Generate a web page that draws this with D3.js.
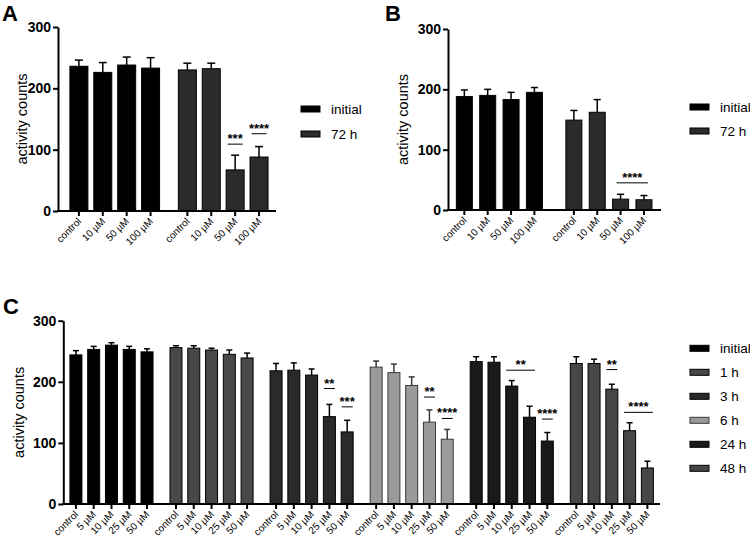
<!DOCTYPE html>
<html lang="en">
<head>
<meta charset="UTF-8" />
<title>activity counts</title>
<script src="https://cdn.jsdelivr.net/npm/d3@7"></script>
<style>
  body { margin: 0; background: #fff; }
  svg { display: block; font-family: "Liberation Sans", Arial, sans-serif; }
</style>
</head>
<body>
<div id="chart"></div>
<script>
const width = 750;
const height = 543;

// panels A and B
const dosesAB = ["control", "10 µM", "50 µM", "100 µM"];
const seriesAB = ["initial", "72 h"];
const colorsAB = ["#000000", "#2b2b2b"];

const aInitial = [236, 226, 238, 233];
const aInitialErr = [10, 16, 13, 17];
const a72h = [230, 232, 67, 88];
const a72hErr = [11, 9, 24, 17];

const bInitial = [188, 190, 183, 195];
const bInitialErr = [11, 10, 12, 8];
const b72h = [149, 162, 18, 17];
const b72hErr = [16, 21, 8, 7];

// panel C
const dosesC = ["control", "5 µM", "10 µM", "25 µM", "50 µM"];
const seriesC = ["initial", "1 h", "3 h", "6 h", "24 h", "48 h"];
const colorsC = ["#000000", "#484848", "#2a2a2a", "#9a9a9a", "#1a1a1a", "#474747"];

const cInitial = [244, 253, 260, 253, 249];
const cInitialErr = [7, 5, 4, 5, 5];
const c1h = [256, 255, 252, 245, 239];
const c1hErr = [3, 4, 3, 7, 8];
const c3h = [218, 219, 211, 143, 118];
const c3hErr = [12, 12, 10, 20, 19];
const c6h = [224, 215, 194, 134, 106];
const c6hErr = [10, 14, 14, 20, 16];
const c24h = [233, 232, 193, 142, 103];
const c24hErr = [8, 9, 9, 18, 14];
const c48h = [230, 230, 188, 120, 59];
const c48hErr = [11, 7, 8, 13, 11];

const yTicks = [0, 100, 200, 300];

// significance marks: group, first/last dose index, bracket height (counts)
const sigA = [
  { group: 1, from: 2, to: 2, at: 109, label: "***" },
  { group: 1, from: 3, to: 3, at: 126, label: "****" }
];
const sigB = [{ group: 1, from: 2, to: 3, at: 45, label: "****" }];
const sigC = [
  { group: 2, from: 3, to: 3, at: 189, label: "**" },
  { group: 2, from: 4, to: 4, at: 159, label: "***" },
  { group: 3, from: 3, to: 3, at: 175, label: "**" },
  { group: 3, from: 4, to: 4, at: 140, label: "****" },
  { group: 4, from: 2, to: 3, at: 219, label: "**" },
  { group: 4, from: 4, to: 4, at: 139, label: "****" },
  { group: 5, from: 2, to: 2, at: 220, label: "**" },
  { group: 5, from: 3, to: 4, at: 150, label: "****" }
];

const svg = d3.select("#chart")
  .append("svg")
  .attr("width", width)
  .attr("height", height);

function drawPanel(cfg) {
  const g = svg.append("g");
  const n = cfg.doses.length;
  const step = n + cfg.gap;
  const lastSlot = (cfg.means.length - 1) * step + n - 1;

  const x = d3.scaleLinear()
    .domain([-cfg.padL, lastSlot + cfg.padR])
    .range([cfg.left, cfg.right]);
  const y = d3.scaleLinear()
    .domain([0, 300])
    .range([cfg.bottom, cfg.top]);

  const rows = [];
  cfg.means.forEach((vals, s) => {
    vals.forEach((v, i) => {
      rows.push({ s, i, v, e: cfg.errs[s][i], slot: s * step + i });
    });
  });

  const stroke = (d) => (cfg.colors[d.s] === "#9a9a9a" ? "#3a3a3a" : "#000");

  // error bars (upper only)
  const eb = g.append("g")
    .selectAll("g")
    .data(rows)
    .join("g")
    .attr("stroke", stroke)
    .attr("stroke-width", 1.5);
  eb.append("line")
    .attr("x1", (d) => x(d.slot))
    .attr("x2", (d) => x(d.slot))
    .attr("y1", (d) => y(d.v))
    .attr("y2", (d) => y(d.v + d.e));
  eb.append("line")
    .attr("x1", (d) => x(d.slot) - cfg.cap / 2)
    .attr("x2", (d) => x(d.slot) + cfg.cap / 2)
    .attr("y1", (d) => y(d.v + d.e))
    .attr("y2", (d) => y(d.v + d.e));

  // bars
  g.append("g")
    .selectAll("rect")
    .data(rows)
    .join("rect")
    .attr("x", (d) => x(d.slot) - cfg.barWidth / 2)
    .attr("y", (d) => y(d.v))
    .attr("width", cfg.barWidth)
    .attr("height", (d) => y(0) - y(d.v))
    .attr("fill", (d) => cfg.colors[d.s])
    .attr("stroke", stroke)
    .attr("stroke-width", 1);

  // y axis
  const yAxis = g.append("g")
    .attr("transform", `translate(${cfg.left},0)`)
    .call(d3.axisLeft(y).tickValues(yTicks).tickSize(5).tickSizeOuter(0).tickPadding(2));
  yAxis.selectAll("path, line").attr("stroke", "#000").attr("stroke-width", 2);
  yAxis.selectAll("text")
    .attr("font-size", 14)
    .attr("font-weight", "bold")
    .attr("fill", "#000")
    .attr("font-family", "Liberation Sans, Arial, sans-serif");

  // x axis
  const xAxis = g.append("g").attr("transform", `translate(0,${cfg.bottom})`);
  xAxis.append("line")
    .attr("x1", cfg.left - 1)
    .attr("x2", cfg.right)
    .attr("stroke", "#000")
    .attr("stroke-width", 2);
  const xt = xAxis.selectAll("g.tick")
    .data(rows)
    .join("g")
    .attr("class", "tick")
    .attr("transform", (d) => `translate(${x(d.slot)},0)`);
  xt.append("line")
    .attr("y2", 5)
    .attr("stroke", "#000")
    .attr("stroke-width", 2);
  xt.append("text")
    .attr("transform", "translate(3,11) rotate(-45)")
    .attr("text-anchor", "end")
    .attr("font-size", 10)
    .attr("fill", "#000")
    .text((d) => cfg.doses[d.i]);

  // y title
  g.append("text")
    .attr("transform", `translate(${cfg.titleX},${(cfg.top + cfg.bottom) / 2}) rotate(-90)`)
    .attr("text-anchor", "middle")
    .attr("dominant-baseline", "middle")
    .attr("font-size", 14.5)
    .text("activity counts");

  // significance
  const sg = g.append("g")
    .selectAll("g")
    .data(cfg.sig)
    .join("g");
  sg.append("line")
    .attr("x1", (d) => x(d.group * step + d.from) - cfg.sigHalf)
    .attr("x2", (d) => x(d.group * step + d.to) + cfg.sigHalf)
    .attr("y1", (d) => y(d.at))
    .attr("y2", (d) => y(d.at))
    .attr("stroke", "#000")
    .attr("stroke-width", 1);
  sg.append("text")
    .attr("x", (d) => (x(d.group * step + d.from) + x(d.group * step + d.to)) / 2)
    .attr("y", (d) => y(d.at) - 1)
    .attr("text-anchor", "middle")
    .attr("font-size", 13)
    .attr("font-weight", "bold")
    .text((d) => d.label);

  // legend
  const lg = g.append("g")
    .selectAll("g")
    .data(cfg.names)
    .join("g")
    .attr("transform", (d, i) => `translate(${cfg.legendX},${cfg.legendY + i * cfg.legendStep})`);
  lg.append("rect")
    .attr("x", 0)
    .attr("y", -3)
    .attr("width", 19)
    .attr("height", 6)
    .attr("fill", (d, i) => cfg.colors[i])
    .attr("stroke", (d, i) => (cfg.colors[i] === "#9a9a9a" ? "#3a3a3a" : "#000"))
    .attr("stroke-width", 1);
  lg.append("text")
    .attr("x", 30)
    .attr("dy", "0.36em")
    .attr("font-size", 13.5)
    .text((d) => d);

  // panel letter
  g.append("text")
    .attr("x", cfg.letterX)
    .attr("y", cfg.letterY)
    .attr("font-size", 22)
    .attr("font-weight", "bold")
    .text(cfg.letter);
}

drawPanel({
  letter: "A", letterX: 2, letterY: 21,
  doses: dosesAB, names: seriesAB, colors: colorsAB,
  means: [aInitial, a72h], errs: [aInitialErr, a72hErr], sig: sigA,
  left: 58, right: 276, top: 27, bottom: 211,
  padL: 0.875, padR: 0.71, gap: 0.54, barWidth: 18, cap: 8, sigHalf: 7.5,
  titleX: 23, legendX: 301, legendY: 109, legendStep: 25
});

drawPanel({
  letter: "B", letterX: 385, letterY: 21,
  doses: dosesAB, names: seriesAB, colors: colorsAB,
  means: [bInitial, b72h], errs: [bInitialErr, b72hErr], sig: sigB,
  left: 448, right: 661, top: 29, bottom: 210,
  padL: 0.7, padR: 0.73, gap: 0.69, barWidth: 16, cap: 7, sigHalf: 4,
  titleX: 404, legendX: 690, legendY: 107, legendStep: 24
});

drawPanel({
  letter: "C", letterX: 3, letterY: 314,
  doses: dosesC, names: seriesC, colors: colorsC,
  means: [cInitial, c1h, c3h, c6h, c24h, c48h],
  errs: [cInitialErr, c1hErr, c3hErr, c6hErr, c24hErr, c48hErr], sig: sigC,
  left: 63.3, right: 660, top: 320.7, bottom: 504,
  padL: 0.71, padR: 0.71, gap: 0.63, barWidth: 12, cap: 6, sigHalf: 5.5,
  titleX: 20, legendX: 690, legendY: 348.3, legendStep: 24
});
</script>
</body>
</html>
